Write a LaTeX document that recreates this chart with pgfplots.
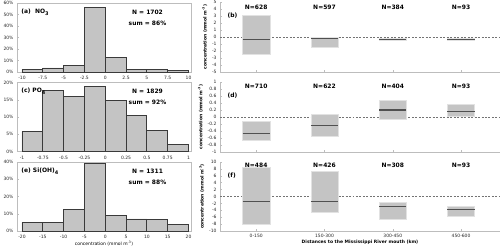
\documentclass[border=0pt]{standalone}
\usepackage{pgfplots}
\pgfplotsset{compat=1.18}
\usepgfplotslibrary{statistics}
\usepackage{fontspec}
\setmainfont{DejaVu Sans}
\definecolor{barfill}{HTML}{C4C4C4}
\definecolor{baredge}{HTML}{3A3A3A}
\definecolor{axgray}{HTML}{BDBDBD}
\definecolor{medgray}{HTML}{505050}
\definecolor{boxedge}{HTML}{E2E2E2}
\tikzset{ann/.style={font=\bfseries\fontsize{6}{7}\selectfont}}
\begin{document}
\begin{tikzpicture}
\useasboundingbox (0,0) rectangle (500bp,-246bp);
\pgfplotsset{
  every axis/.append style={
    scale only axis,
    anchor=north west,
    tick label style={font=\fontsize{4.5}{5}\selectfont, text=black!85},
    label style={font=\fontsize{4.5}{5}\selectfont},
    /pgf/number format/assume math mode=true,
    axis line style={axgray, line width=0.6pt},
    major tick style={axgray, line width=0.5pt},
    major tick length=2bp,
    tick pos=left,
  },
  hist/.style={width=174bp, height=69bp, ymin=0,
    yticklabel={\pgfmathprintnumber{\tick}\%},
    xticklabel style={yshift=-1bp},
  },
  histbar/.style={ybar interval, fill=barfill, draw=baredge, line width=0.8pt},
  rbox/.style={width=280bp, xmin=0.47, xmax=4.57, xtick={1,2,3,4},
    axis x line*=bottom, axis y line*=left, axis line style={-},
    ylabel={\bfseries concentration (mmol m\textsuperscript{-3})},
    ylabel style={yshift=-2bp},
    boxplot/draw direction=y,
    boxplot/every median/.style={draw=medgray, line width=1.1pt},
    boxplot/every whisker/.style={draw=none},
    boxplot/whisker extend=0,
  },
  bx/.style={fill=barfill, draw=boxedge, line width=0.5pt, boxplot/draw direction=y},
  zl/.style={draw=medgray!80, dash pattern=on 2pt off 1.5pt, line width=0.45pt},
}
% ---------- (a) NO3
\begin{axis}[hist, at={(17bp,-3bp)}, xmin=-10.6, xmax=10.3, ymax=60,
  ytick={0,10,20,30,40,50,60},
  xtick={-10,-7.5,-5,-2.5,0,2.5,5,7.5,10}]
\addplot[histbar] coordinates {(-10,2.5) (-7.5,3.5) (-5,5.5) (-2.5,56) (0,12.3) (2.5,2.5) (5,2) (7.5,1.7) (10,1.7)};
\node[ann, anchor=west] at (rel axis cs:0.005,0.87) {(a)\ \ NO\textsubscript{3}};
\node[ann] at (rel axis cs:0.75,0.87) {N = 1702};
\node[ann] at (rel axis cs:0.75,0.71) {sum = 86\%};
\end{axis}
% ---------- (c) PO4
\begin{axis}[hist, at={(17bp,-82.5bp)}, xmin=-1.06, xmax=1.03, ymax=20,
  ytick={0,5,10,15,20},
  xtick={-1,-0.75,-0.5,-0.25,0,0.25,0.5,0.75,1}]
\addplot[histbar] coordinates {(-1,5.8) (-0.75,17.8) (-0.5,16) (-0.25,18.9) (0,14.7) (0.25,10.5) (0.5,6.2) (0.75,2.1) (1,2.1)};
\node[ann, anchor=west] at (rel axis cs:0.005,0.87) {(c) PO\textsubscript{4}};
\node[ann] at (rel axis cs:0.75,0.87) {N = 1829};
\node[ann] at (rel axis cs:0.75,0.71) {sum = 92\%};
\end{axis}
% ---------- (e) Si(OH)4
\begin{axis}[hist, at={(17bp,-162bp)}, xmin=-21.2, xmax=20.6, ymax=40,
  ytick={0,10,20,30,40},
  xtick={-20,-15,-10,-5,0,5,10,15,20},
  xlabel={concentration (mmol m\textsuperscript{-3})},
  xlabel style={yshift=4.5bp}]
\addplot[histbar] coordinates {(-20,5) (-15,5) (-10,12.7) (-5,39) (0,9) (5,7) (10,6.5) (15,4) (20,4)};
\node[ann, anchor=west] at (rel axis cs:0.005,0.87) {(e) Si(OH)\textsubscript{4}};
\node[ann] at (rel axis cs:0.75,0.87) {N = 1311};
\node[ann] at (rel axis cs:0.75,0.71) {sum = 88\%};
\end{axis}
% ---------- (b)
\begin{axis}[rbox, at={(220bp,-2bp)}, height=70bp, ymin=-5, ymax=5,
  ytick={-5,-4,-3,-2,-1,0,1,2,3,4,5}, xticklabels={}]
\addplot[zl] coordinates {(0.47,0) (4.57,0)};
\addplot[bx, boxplot prepared={draw position=1, box extend=0.4, lower whisker=-2.5, lower quartile=-2.5, median=-0.3, upper quartile=3.1, upper whisker=3.1}] coordinates {};
\addplot[bx, boxplot prepared={draw position=2, box extend=0.4, lower whisker=-1.4, lower quartile=-1.4, median=-0.25, upper quartile=-0.1, upper whisker=-0.1}] coordinates {};
\addplot[bx, boxplot prepared={draw position=3, box extend=0.4, lower whisker=-0.5, lower quartile=-0.5, median=-0.35, upper quartile=-0.15, upper whisker=-0.15}] coordinates {};
\addplot[bx, boxplot prepared={draw position=4, box extend=0.4, lower whisker=-0.45, lower quartile=-0.45, median=-0.3, upper quartile=-0.15, upper whisker=-0.15}] coordinates {};
\node[ann, anchor=west] at (rel axis cs:0.015,0.8) {(b)};
\node[ann] at (axis cs:1,4.3) {N=628};
\node[ann] at (axis cs:2,4.3) {N=597};
\node[ann] at (axis cs:3,4.3) {N=384};
\node[ann] at (axis cs:4,4.3) {N=93};
\end{axis}
% ---------- (d)
\begin{axis}[rbox, at={(220bp,-82bp)}, height=70bp, ymin=-1, ymax=1,
  ytick={-1,-0.8,-0.6,-0.4,-0.2,0,0.2,0.4,0.6,0.8,1}, xticklabels={}]
\addplot[zl] coordinates {(0.47,0) (4.57,0)};
\addplot[bx, boxplot prepared={draw position=1, box extend=0.4, lower whisker=-0.66, lower quartile=-0.66, median=-0.47, upper quartile=-0.12, upper whisker=-0.12}] coordinates {};
\addplot[bx, boxplot prepared={draw position=2, box extend=0.4, lower whisker=-0.55, lower quartile=-0.55, median=-0.24, upper quartile=0.09, upper whisker=0.09}] coordinates {};
\addplot[bx, boxplot prepared={draw position=3, box extend=0.4, lower whisker=-0.07, lower quartile=-0.07, median=0.2, upper quartile=0.47, upper whisker=0.47}] coordinates {};
\addplot[bx, boxplot prepared={draw position=4, box extend=0.4, lower whisker=0.01, lower quartile=0.01, median=0.15, upper quartile=0.36, upper whisker=0.36}] coordinates {};
\node[ann, anchor=west] at (rel axis cs:0.015,0.8) {(d)};
\node[ann] at (axis cs:1,0.87) {N=710};
\node[ann] at (axis cs:2,0.87) {N=622};
\node[ann] at (axis cs:3,0.87) {N=404};
\node[ann] at (axis cs:4,0.87) {N=93};
\end{axis}
% ---------- (f)
\begin{axis}[rbox, at={(220bp,-162bp)}, height=69bp, ymin=-10, ymax=10,
  ytick={-10,-8,-6,-4,-2,0,2,4,6,8,10},
  xticklabels={0-150,150-300,300-450,450-600},
  xlabel={\bfseries Distances to the Mississippi River mouth (km)},
  xlabel style={yshift=4.5bp}]
\addplot[zl] coordinates {(0.47,0) (4.57,0)};
\addplot[bx, boxplot prepared={draw position=1, box extend=0.4, lower whisker=-8.0, lower quartile=-8.0, median=-1.4, upper quartile=8.6, upper whisker=8.6}] coordinates {};
\addplot[bx, boxplot prepared={draw position=2, box extend=0.4, lower whisker=-4.7, lower quartile=-4.7, median=-1.4, upper quartile=7.4, upper whisker=7.4}] coordinates {};
\addplot[bx, boxplot prepared={draw position=3, box extend=0.4, lower whisker=-6.6, lower quartile=-6.6, median=-2.8, upper quartile=-1.7, upper whisker=-1.7}] coordinates {};
\addplot[bx, boxplot prepared={draw position=4, box extend=0.4, lower whisker=-5.7, lower quartile=-5.7, median=-3.7, upper quartile=-2.7, upper whisker=-2.7}] coordinates {};
\node[ann, anchor=west] at (rel axis cs:0.015,0.8) {(f)};
\node[ann] at (axis cs:1,9) {N=484};
\node[ann] at (axis cs:2,9) {N=426};
\node[ann] at (axis cs:3,9) {N=308};
\node[ann] at (axis cs:4,9) {N=93};
\end{axis}
\end{tikzpicture}
\end{document}
